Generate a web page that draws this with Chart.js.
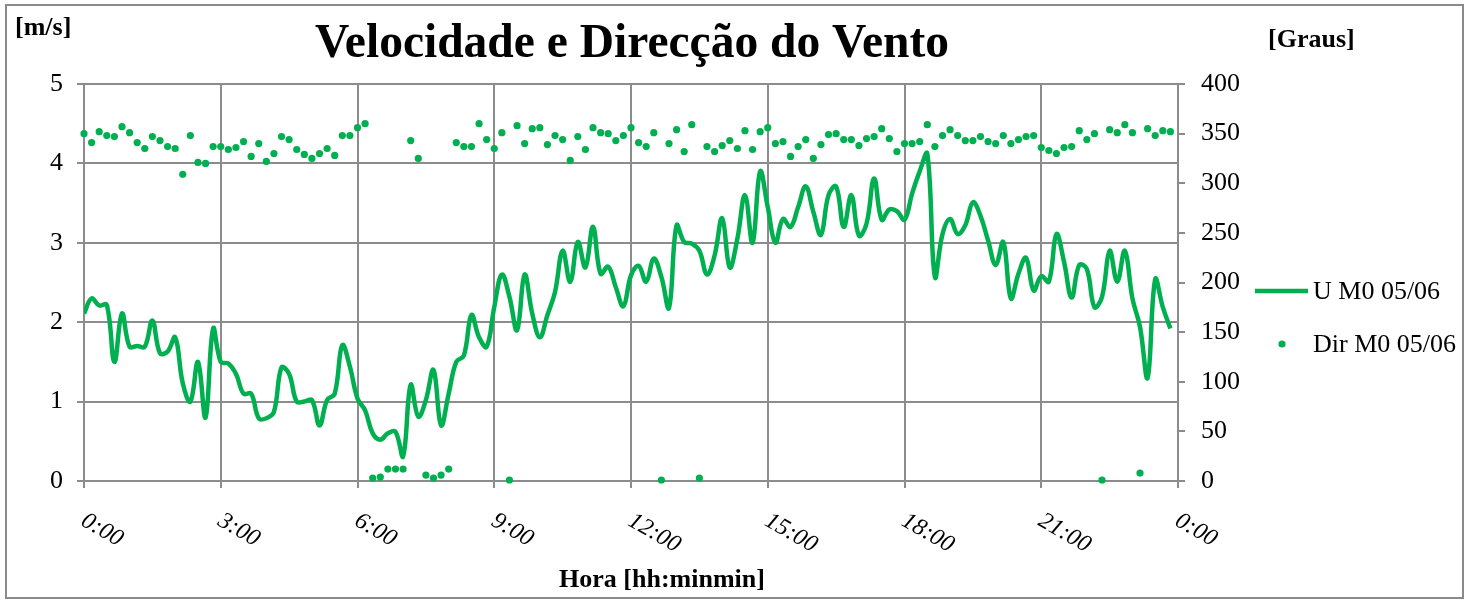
<!DOCTYPE html>
<html>
<head>
<meta charset="utf-8">
<script src="https://cdn.jsdelivr.net/npm/chart.js@4/dist/chart.umd.min.js"></script>
<style>
  html, body { margin: 0; padding: 0; background: #fff; }
  #wrap { width: 1475px; height: 601px; }
</style>
</head>
<body>
<div id="wrap"><canvas id="chart" width="1475" height="601"></canvas></div>
<script>
const chartTitle = 'Velocidade e Direcção do Vento';
const leftUnit = '[m/s]';
const rightUnit = '[Graus]';
const xTitle = 'Hora [hh:minmin]';
const seriesNames = ['U M0 05/06', 'Dir M0 05/06'];
const hourLabels = ['0:00', '3:00', '6:00', '9:00', '12:00', '15:00', '18:00', '21:00', '0:00'];

// one sample every 10 minutes, 0:00 .. 23:50
const stepMinutes = 10;

// wind speed [m/s]
const speed = [
  2.11, 2.30, 2.21, 2.22, 1.50, 2.11, 1.69, 1.70, 1.69, 2.02,
  1.61, 1.63, 1.81, 1.23, 1.00, 1.50, 0.80, 1.92, 1.50, 1.48,
  1.35, 1.10, 1.10, 0.79, 0.79, 0.87, 1.43, 1.35, 1.00, 1.00,
  1.02, 0.70, 1.02, 1.10, 1.71, 1.44, 1.04, 0.89, 0.60, 0.52,
  0.60, 0.62, 0.31, 1.21, 0.81, 1.02, 1.40, 0.70, 1.10, 1.50,
  1.58, 2.09, 1.81, 1.69, 2.19, 2.60, 2.32, 1.90, 2.60, 2.11,
  1.81, 2.09, 2.38, 2.90, 2.51, 3.01, 2.69, 3.20, 2.61, 2.70,
  2.44, 2.20, 2.59, 2.71, 2.51, 2.80, 2.57, 2.18, 3.22, 3.01,
  2.99, 2.90, 2.60, 2.84, 3.31, 2.69, 3.05, 3.60, 3.00, 3.90,
  3.45, 3.00, 3.30, 3.20, 3.45, 3.71, 3.39, 3.10, 3.60, 3.71,
  3.20, 3.60, 3.09, 3.24, 3.81, 3.29, 3.42, 3.40, 3.29, 3.62,
  3.90, 4.12, 2.57, 3.11, 3.30, 3.11, 3.22, 3.51, 3.34, 3.03,
  2.72, 3.01, 2.30, 2.61, 2.81, 2.40, 2.58, 2.51, 3.11, 2.76,
  2.31, 2.72, 2.67, 2.19, 2.32, 2.90, 2.51, 2.90, 2.30, 1.94,
  1.30, 2.54, 2.19, 1.92
];

// wind direction [degrees]
const direction = [
  350, 341, 352, 348, 347, 357, 351, 341, 335, 347,
  343, 337, 335, 309, 348, 321, 320, 337, 337, 334,
  336, 342, 327, 340, 322, 330, 347, 344, 334, 329,
  325, 330, 335, 328, 348, 348, 356, 360, 3, 4,
  12, 12, 12, 343, 325, 6, 3, 6, 12, 341,
  337, 337, 360, 344, 335, 351, 1, 358, 340, 355,
  356, 339, 348, 344, 323, 347, 334, 356, 351, 350,
  343, 348, 356, 341, 337, 351, 1, 340, 354, 332,
  359, 3, 337, 332, 338, 343, 335, 353, 334, 352,
  356, 340, 342, 327, 337, 344, 325, 339, 349, 350,
  344, 344, 338, 345, 347, 355, 345, 332, 340, 340,
  342, 359, 337, 348, 354, 348, 343, 343, 347, 342,
  340, 348, 340, 344, 347, 348, 336, 333, 330, 336,
  337, 353, 344, 350, 1, 354, 351, 359, 351, 8,
  355, 348, 353, 352
];

const green = '#00b050';
const gridGray = '#8c8c8c';
const serif = '"Liberation Serif", "Times New Roman", serif';

const decor = {
  id: 'decor',
  beforeDraw(chart) {
    const ctx = chart.ctx;
    ctx.save();
    ctx.fillStyle = '#fff';
    ctx.fillRect(0, 0, chart.width, chart.height);
    ctx.strokeStyle = '#8a8a8a';
    ctx.lineWidth = 2;
    ctx.strokeRect(6, 5, 1457, 593);
    ctx.restore();
  },
  afterDraw(chart) {
    const ctx = chart.ctx;
    const x = chart.scales.x;
    ctx.save();
    ctx.fillStyle = '#000';

    // rotated hour labels
    ctx.font = 'italic 24px ' + serif;
    ctx.textAlign = 'left';
    ctx.textBaseline = 'middle';
    hourLabels.forEach((lab, i) => {
      const px = x.getPixelForValue(i * 180);
      ctx.save();
      ctx.translate(px - 1, 519);
      ctx.rotate(Math.PI / 6);
      ctx.fillText(lab, 0, 0);
      ctx.restore();
    });

    ctx.textBaseline = 'alphabetic';
    ctx.textAlign = 'center';
    ctx.font = 'bold 47.5px ' + serif;
    ctx.fillText(chartTitle, 632, 57);
    ctx.font = 'bold 26px ' + serif;
    ctx.fillText(xTitle, 662, 587);
    ctx.textAlign = 'left';
    ctx.fillText(leftUnit, 15, 35);
    ctx.fillText(rightUnit, 1268, 47);

    // legend
    ctx.strokeStyle = green;
    ctx.lineWidth = 4.5;
    ctx.beginPath();
    ctx.moveTo(1255, 291);
    ctx.lineTo(1308, 291);
    ctx.stroke();
    ctx.fillStyle = green;
    ctx.beginPath();
    ctx.arc(1282, 344, 3.6, 0, Math.PI * 2);
    ctx.fill();
    ctx.fillStyle = '#000';
    ctx.font = '26px ' + serif;
    ctx.textBaseline = 'middle';
    ctx.fillText(seriesNames[0], 1313, 292);
    ctx.fillText(seriesNames[1], 1313, 345);
    ctx.restore();
  }
};

new Chart(document.getElementById('chart'), {
  type: 'line',
  data: {
    datasets: [
      {
        label: seriesNames[1],
        data: direction.map((d, i) => ({ x: i * stepMinutes, y: d })),
        yAxisID: 'y1',
        showLine: false,
        pointRadius: 3.6,
        pointBackgroundColor: green,
        pointBorderWidth: 0,
        clip: false
      },
      {
        label: seriesNames[0],
        data: speed.map((v, i) => ({ x: i * stepMinutes, y: v })),
        yAxisID: 'y',
        borderColor: green,
        borderWidth: 4.5,
        pointRadius: 0,
        tension: 0.4,
        fill: false
      }
    ]
  },
  options: {
    responsive: false,
    animation: false,
    layout: { padding: { top: 84, left: 0, right: 0, bottom: 0 } },
    plugins: { legend: { display: false }, tooltip: { enabled: false } },
    scales: {
      x: {
        type: 'linear', min: 0, max: 1440,
        ticks: { stepSize: 180, display: false },
        grid: { color: gridGray, lineWidth: 2, tickLength: 7 },
        border: { color: gridGray, width: 2 },
        afterFit: s => { s.height = 120; }
      },
      y: {
        position: 'left', min: 0, max: 5,
        ticks: { stepSize: 1, color: '#000', padding: 14, font: { family: serif, size: 26 } },
        grid: { color: gridGray, lineWidth: 2, tickLength: 7 },
        border: { color: gridGray, width: 2 },
        afterFit: s => { s.width = 84; }
      },
      y1: {
        position: 'right', min: 0, max: 400,
        ticks: { stepSize: 50, color: '#000', padding: 16, font: { family: serif, size: 26 } },
        grid: { drawOnChartArea: false, color: gridGray, lineWidth: 2, tickLength: 7 },
        border: { color: gridGray, width: 2 },
        afterFit: s => { s.width = 297; }
      }
    }
  },
  plugins: [decor]
});
</script>
</body>
</html>
